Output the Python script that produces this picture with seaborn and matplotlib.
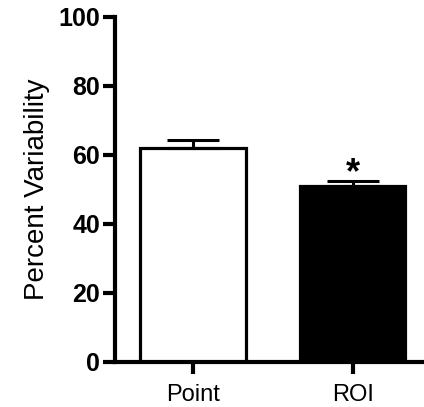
import matplotlib
matplotlib.use("Agg")
import matplotlib.pyplot as plt
import seaborn as sns
import pandas as pd

categories = ["Point", "ROI"]
values = [62.0, 51.0]
errors = [2.3, 1.3]
bar_colors = ["white", "black"]
y_ticks = [0, 20, 40, 60, 80, 100]

sns.set_style("ticks")
plt.rcParams["font.family"] = ["Liberation Sans", "DejaVu Sans"]
plt.rcParams["text.color"] = "black"
plt.rcParams["axes.labelcolor"] = "black"
plt.rcParams["xtick.color"] = "black"
plt.rcParams["ytick.color"] = "black"

df = pd.DataFrame({"group": categories, "value": values})

fig = plt.figure(figsize=(4.24, 4.07), dpi=100)
ax = fig.add_axes([0.271, 0.1106, 0.749, 0.848])

sns.barplot(data=df, x="group", y="value", hue="group", palette=bar_colors,
            width=0.66, edgecolor="black", linewidth=2.3, legend=False, ax=ax,
            errorbar=None, order=categories)

ax.errorbar(x=[0, 1], y=values, yerr=[[0, 0], errors], fmt="none",
            ecolor="black", elinewidth=2.2, capsize=19, capthick=2.2, zorder=1)

ax.text(1, values[1] + errors[1] - 2.8, "*", ha="center", va="bottom",
        fontsize=26, fontweight="bold")

ax.set_ylim(0, 100)
ax.set_xlim(-0.49, 1.5)
ax.set_yticks(y_ticks)
ax.set_yticklabels([str(t) for t in y_ticks], fontsize=18, fontweight="bold")
ax.set_xticks([0, 1])
ax.set_xticklabels(categories, fontsize=17)
ax.tick_params(axis="x", pad=7)
ax.set_xlabel("")
ax.set_ylabel("Percent Variability", fontsize=20, labelpad=6)

for s in ["top", "right"]:
    ax.spines[s].set_visible(False)
for s in ["left", "bottom"]:
    ax.spines[s].set_linewidth(3)
    ax.spines[s].set_color("black")
ax.tick_params(axis="both", width=3, length=8.5, color="black")
ax.tick_params(axis="y", pad=2)

fig.savefig("out.png", dpi=100)
